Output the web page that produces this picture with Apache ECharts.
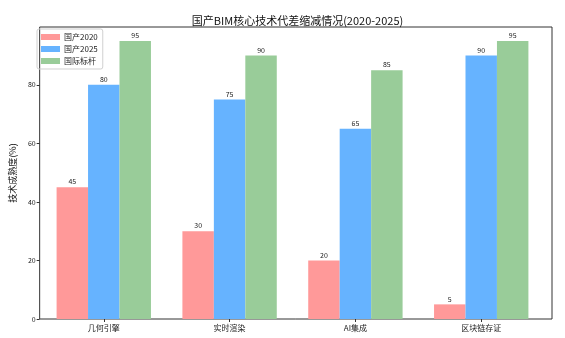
<!DOCTYPE html>
<html>
<head>
<meta charset="utf-8">
<script src="https://cdn.jsdelivr.net/npm/echarts@6/dist/echarts.min.js"></script>
<style>
  html, body { margin: 0; padding: 0; background: #fff; }
  #chart { width: 565px; height: 338px; }
</style>
</head>
<body>
<div id="chart"></div>
<script>
// Technology categories and maturity scores (%)
const categories = ['几何引擎', '实时渲染', 'AI集成', '区块链存证'];
const domestic2020 = [45, 30, 20, 5];
const domestic2025 = [80, 75, 65, 90];
const benchmark = [95, 90, 85, 95];
const seriesNames = ['国产2020', '国产2025', '国际标杆'];
const yTicks = [0, 20, 40, 60, 80];

const FONT = '"Noto Sans CJK SC", "DejaVu Sans", sans-serif';
const colors = ['#ff9999', '#66b3ff', '#99cc99'];

// Frame area and inner bar area (category bands sit inside small side margins)
const frame = { left: 33, right: 13, top: 27, bottom: 19 };
const plotW = 565 - frame.left - frame.right;
const unit = plotW / 4.125;
const inset = 0.0625 * unit;
const yMax = 99.75;

const chart = echarts.init(document.getElementById('chart'), null, { renderer: 'canvas' });

function barSeries(name, data, idx) {
  return {
    name: name,
    type: 'bar',
    xAxisIndex: 0,
    yAxisIndex: 0,
    data: data,
    barWidth: unit * 0.25,
    barGap: '0%',
    itemStyle: { color: colors[idx] },
    label: {
      show: true,
      position: 'top',
      distance: 2,
      fontSize: 7,
      color: '#222',
      fontFamily: FONT
    },
    emphasis: { disabled: true }
  };
}

chart.setOption({
  animation: false,
  textStyle: { fontFamily: FONT },
  title: {
    text: '国产BIM核心技术代差缩减情况(2020-2025)',
    left: frame.left + plotW / 2,
    textAlign: 'center',
    top: 10,
    textStyle: { fontSize: 11, fontWeight: 'normal', color: '#111', fontFamily: FONT }
  },
  legend: {
    orient: 'vertical',
    left: 37,
    top: 29,
    data: seriesNames,
    icon: 'rect',
    itemWidth: 19,
    itemHeight: 6,
    itemGap: 4,
    padding: [4, 5, 4, 4],
    borderColor: '#d0d0d0',
    borderWidth: 1,
    borderRadius: 2,
    textStyle: { fontSize: 8, color: '#222', fontFamily: FONT, padding: [0, 0, 0, -1] }
  },
  grid: [
    {
      left: frame.left + inset,
      right: frame.right + inset,
      top: frame.top,
      bottom: frame.bottom
    },
    {
      left: frame.left,
      right: frame.right,
      top: frame.top,
      bottom: frame.bottom,
      show: true,
      borderColor: '#333',
      borderWidth: 1,
      backgroundColor: 'transparent'
    }
  ],
  xAxis: [
    {
      type: 'category',
      gridIndex: 0,
      data: categories,
      axisLine: { show: false },
      axisTick: { show: true, alignWithLabel: true, length: 3, lineStyle: { color: '#333' } },
      axisLabel: { fontSize: 8, color: '#222', margin: 5, fontFamily: FONT }
    },
    {
      type: 'value',
      gridIndex: 1,
      show: false
    }
  ],
  yAxis: [
    {
      type: 'value',
      gridIndex: 0,
      min: 0,
      max: yMax,
      show: false
    },
    {
      type: 'value',
      gridIndex: 1,
      min: 0,
      max: yMax,
      interval: 20,
      name: '技术成熟度(%)',
      nameLocation: 'middle',
      nameGap: 17,
      nameTextStyle: { fontSize: 9, color: '#111', fontFamily: FONT },
      splitLine: { show: false },
      axisLine: { show: false },
      axisTick: {
        show: true,
        length: 3,
        lineStyle: { color: '#333' },
        customValues: yTicks
      },
      axisLabel: {
        fontSize: 7,
        color: '#222',
        margin: 4,
        customValues: yTicks,
        formatter: function (v) { return yTicks.indexOf(v) >= 0 ? String(v) : ''; }
      }
    }
  ],
  series: [
    barSeries(seriesNames[0], domestic2020, 0),
    barSeries(seriesNames[1], domestic2025, 1),
    barSeries(seriesNames[2], benchmark, 2)
  ]
});
</script>
</body>
</html>
